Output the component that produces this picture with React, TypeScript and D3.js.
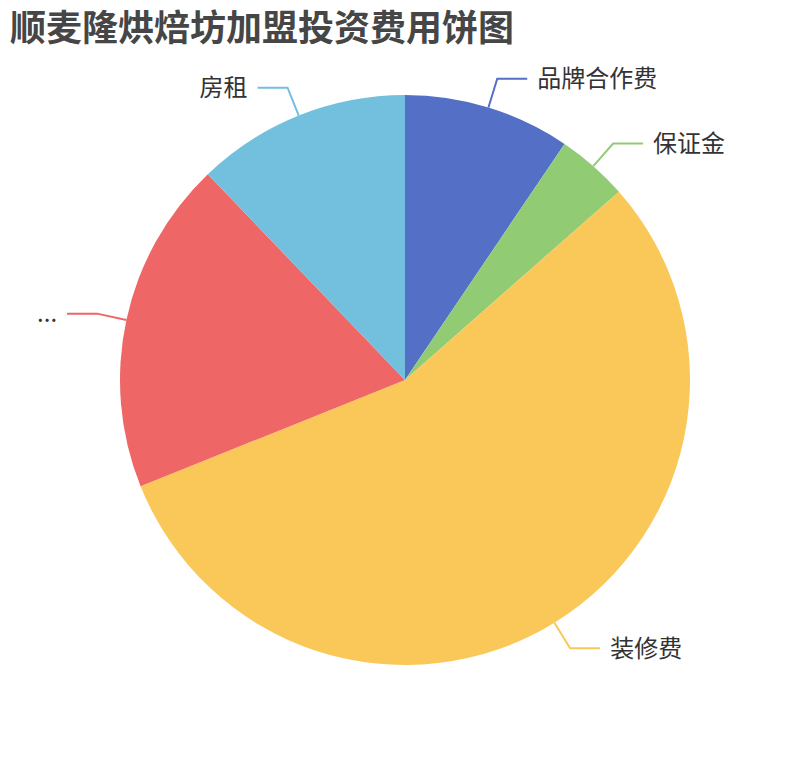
import * as d3 from "d3";
import { useEffect, useRef } from "react";

const title = "顺麦隆烘焙坊加盟投资费用饼图";
const names = ["品牌合作费", "保证金", "装修费", "...", "房租"];
const values = [7, 3, 41, 14, 9];
const colors = ["#5470c6", "#91cc75", "#fac858", "#ee6666", "#73c0de"];

export default function App() {
  const ref = useRef<SVGSVGElement | null>(null);

  useEffect(() => {
    const svg = d3.select(ref.current as SVGSVGElement);
    svg.selectAll("*").remove();

    const width = 810;
    const height = 760;
    const cx = 405;
    const cy = 380;
    const r = 285;
    const len1 = 30;
    const len2 = 30;
    const font = "'Noto Sans CJK SC', 'Noto Sans', sans-serif";

    svg.attr("width", width).attr("height", height).attr("viewBox", `0 0 ${width} ${height}`);

    svg
      .append("text")
      .attr("x", 10)
      .attr("y", 25)
      .attr("dominant-baseline", "central")
      .attr("font-family", font)
      .attr("font-weight", "bold")
      .attr("font-size", "36px")
      .attr("fill", "#464646")
      .text(title);

    const pie = d3
      .pie<number>()
      .sort(null)
      .value((d) => d);
    const arcs = pie(values);
    const arc = d3.arc<d3.PieArcDatum<number>>().innerRadius(0).outerRadius(r);

    const g = svg.append("g").attr("transform", `translate(${cx},${cy})`);

    g.selectAll("path")
      .data(arcs)
      .enter()
      .append("path")
      .attr("d", arc)
      .attr("fill", (_d, i) => colors[i]);

    // label lines + labels
    arcs.forEach((d, i) => {
      const a = (d.startAngle + d.endAngle) / 2;
      const sx = Math.sin(a);
      const sy = -Math.cos(a);
      const right = sx >= 0;
      const p0 = [sx * r, sy * r];
      const p1 = [sx * (r + len1), sy * (r + len1)];
      const p2 = [p1[0] + (right ? len2 : -len2), p1[1]];

      g.append("polyline")
        .attr("points", [p0, p1, p2].map((p) => p.join(",")).join(" "))
        .attr("fill", "none")
        .attr("stroke", colors[i])
        .attr("stroke-width", 2);

      g.append("text")
        .attr("x", p2[0] + (right ? 10 : -10))
        .attr("y", p2[1] - 2)
        .attr("text-anchor", right ? "start" : "end")
        .attr("dominant-baseline", "central")
        .attr("font-family", font)
        .attr("font-size", "24px")
        .attr("fill", "#333")
        .text(names[i]);
    });
  }, []);

  return (
    <div style={{ position: "fixed", left: 0, top: 0, width: 810, height: 760, background: "#fff" }}>
      <svg ref={ref} style={{ display: "block" }} />
    </div>
  );
}
